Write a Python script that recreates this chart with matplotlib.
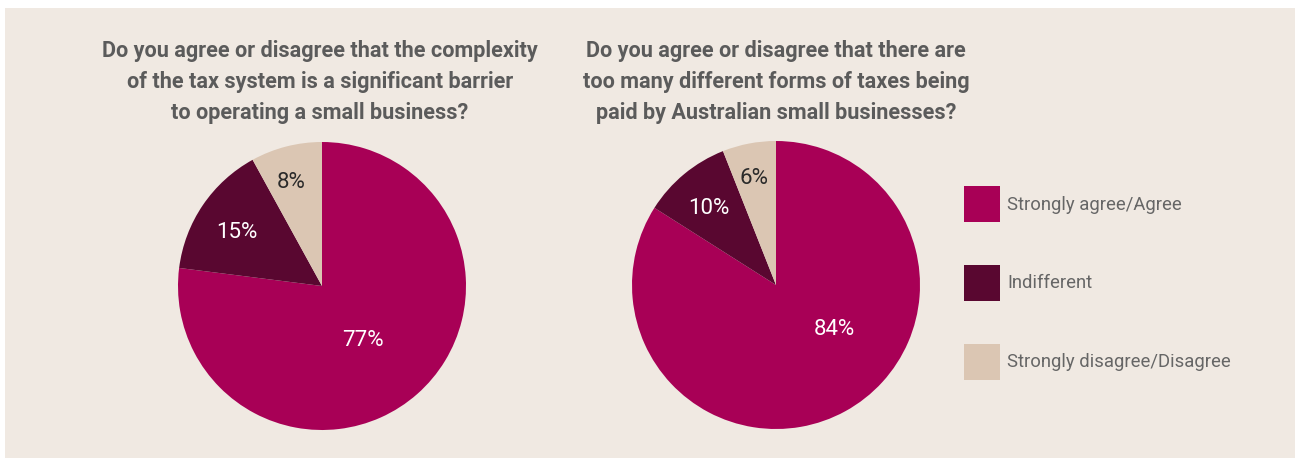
import numpy as np
import matplotlib.pyplot as plt
from matplotlib.patches import Rectangle

# data
categories = ["Strongly agree/Agree", "Indifferent", "Strongly disagree/Disagree"]
complexity_pct = [77, 15, 8]
forms_pct = [84, 10, 6]
titles = [
    "Do you agree or disagree that the complexity\nof the tax system is a significant barrier\nto operating a small business?",
    "Do you agree or disagree that there are\ntoo many different forms of taxes being\npaid by Australian small businesses?",
]

colors = ["#a80056", "#590730", "#dbc6b3"]
label_colors = ["white", "white", "#2a2a2a"]
bg = "#f0e9e2"

W, H = 1295, 459
fig = plt.figure(figsize=(W / 100, H / 100), dpi=100)
fig.patch.set_facecolor("white")
fig.patches.append(Rectangle((5 / W, 1 / H), 1, (H - 9) / H, transform=fig.transFigure,
                             facecolor=bg, edgecolor="none", zorder=-10))

font = ["Roboto", "DejaVu Sans"]


def draw_pie(cx, cy, r, values, label_dist, label_turn):
    ax = fig.add_axes([(cx - r) / W, (H - cy - r) / H, 2 * r / W, 2 * r / H])
    wedges, _ = ax.pie(values, colors=colors, startangle=90, counterclock=False,
                       wedgeprops=dict(linewidth=0))
    ax.set_xlim(-1, 1)
    ax.set_ylim(-1, 1)
    ax.set_aspect("equal")
    ax.axis("off")
    # labels sit near the wedge middle, nudged a little by hand like the original
    for w, v, d, t, c in zip(wedges, values, label_dist, label_turn, label_colors):
        ang = np.deg2rad((w.theta1 + w.theta2) / 2 + t)
        ax.text(d * np.cos(ang), d * np.sin(ang), f"{v}%", ha="center",
                va="center_baseline", fontsize=16, color=c, family=font)
    return wedges


wedges = draw_pie(322, 286, 144, complexity_pct, [0.46, 0.71, 0.767], [-3, 0.8, 1.9])
draw_pie(776, 285, 144, forms_pct, [0.5, 0.72, 0.772], [25.8, 0.5, 0.6])

for x, t in zip([320, 776], titles):
    fig.text(x / W, 1 - 40 / H, t, ha="center", va="top", fontsize=15.6,
             fontweight="bold", color="#5b5b5b", family=font, linespacing=1.52)

fs = 13.3
fig.legend(wedges, categories, loc="upper left", bbox_to_anchor=(964 / W, 1 - 186 / H),
           frameon=False, borderpad=0, borderaxespad=0, handlelength=1.95,
           handleheight=2.63, labelspacing=2.31, handletextpad=0.4,
           prop=dict(family=font, size=fs), labelcolor="#666666")

fig.savefig("out.png", dpi=100, facecolor=fig.get_facecolor())
